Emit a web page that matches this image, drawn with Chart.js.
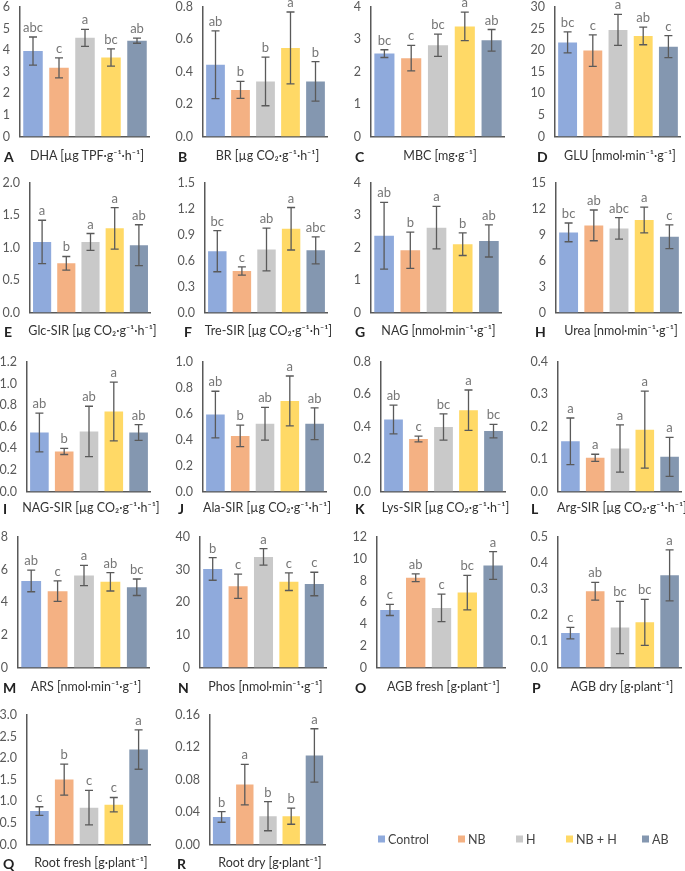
<!DOCTYPE html>
<html>
<head>
<meta charset="utf-8">
<script src="https://cdn.jsdelivr.net/npm/chart.js@4.4.1/dist/chart.umd.min.js"></script>
<style>
  body { margin: 0; background: #fff; width: 685px; height: 871px; position: relative; overflow: hidden; font-family: Lato, "Open Sans", sans-serif; }
  canvas { position: absolute; }
  .ttl { position: absolute; font-size: 12.5px; color: #333; white-space: nowrap; transform: translate(-50%, -50%); }
  .lbl { position: absolute; font-size: 14px; font-weight: bold; color: #222; transform: translateY(-50%); }
  .leg { position: absolute; font-size: 12.5px; color: #444; transform: translateY(-50%); white-space: nowrap; }
  .leg span { display: inline-block; width: 7px; height: 7px; margin-right: 3px; vertical-align: 1px; }
</style>
</head>
<body>
<script>
const groups = ["Control", "NB", "H", "NB + H", "AB"];
const colors = ["#8faadc", "#f4b183", "#c9c9c9", "#ffd966", "#8497b0"];

// A - DHA
const dhaMean = [3.96, 3.18, 4.57, 3.66, 4.44];
const dhaSd = [0.65, 0.46, 0.39, 0.40, 0.12];
const dhaLetters = ["abc", "c", "a", "bc", "ab"];
// B - BR
const brMean = [0.443, 0.288, 0.34, 0.547, 0.34];
const brSd = [0.209, 0.053, 0.15, 0.222, 0.122];
const brLetters = ["ab", "b", "b", "a", "b"];
// C - MBC
const mbcMean = [2.56, 2.42, 2.82, 3.40, 2.97];
const mbcSd = [0.12, 0.395, 0.345, 0.44, 0.335];
const mbcLetters = ["bc", "c", "bc", "a", "ab"];
// D - GLU
const gluMean = [21.8, 19.9, 24.7, 23.3, 20.8];
const gluSd = [2.45, 3.65, 3.6, 2.05, 2.55];
const gluLetters = ["bc", "c", "a", "ab", "c"];
// E - Glc-SIR
const glcMean = [1.09, 0.76, 1.09, 1.30, 1.04];
const glcSd = [0.335, 0.105, 0.13, 0.32, 0.315];
const glcLetters = ["a", "b", "a", "a", "ab"];
// F - Tre-SIR
const treMean = [0.71, 0.48, 0.73, 0.97, 0.72];
const treSd = [0.238, 0.048, 0.247, 0.246, 0.157];
const treLetters = ["bc", "c", "ab", "a", "abc"];
// G - NAG
const nagMean = [2.37, 1.92, 2.62, 2.11, 2.21];
const nagSd = [1.03, 0.56, 0.655, 0.35, 0.495];
const nagLetters = ["ab", "b", "a", "b", "ab"];
// H - Urea
const ureaMean = [9.28, 10.09, 9.74, 10.71, 8.77];
const ureaSd = [1.085, 1.78, 1.24, 1.485, 1.375];
const ureaLetters = ["bc", "ab", "abc", "a", "c"];
// I - NAG-SIR
const nagSirMean = [0.547, 0.371, 0.557, 0.742, 0.547];
const nagSirSd = [0.18, 0.028, 0.233, 0.272, 0.073];
const nagSirLetters = ["ab", "b", "ab", "a", "ab"];
// J - Ala-SIR
const alaMean = [0.594, 0.429, 0.523, 0.699, 0.523];
const alaSd = [0.18, 0.083, 0.127, 0.193, 0.123];
const alaLetters = ["ab", "b", "ab", "a", "ab"];
// K - Lys-SIR
const lysMean = [0.445, 0.324, 0.398, 0.502, 0.373];
const lysSd = [0.089, 0.018, 0.081, 0.125, 0.042];
const lysLetters = ["ab", "c", "bc", "a", "bc"];
// L - Arg-SIR
const argMean = [0.155, 0.104, 0.133, 0.191, 0.107];
const argSd = [0.072, 0.011, 0.073, 0.119, 0.06];
const argLetters = ["a", "a", "a", "a", "a"];
// M - ARS
const arsMean = [5.31, 4.68, 5.64, 5.25, 4.92];
const arsSd = [0.665, 0.625, 0.615, 0.56, 0.505];
const arsLetters = ["ab", "c", "a", "ab", "bc"];
// N - Phos
const phosMean = [30.2, 24.9, 33.9, 26.3, 25.6];
const phosSd = [3.45, 3.7, 2.55, 2.7, 3.6];
const phosLetters = ["b", "c", "a", "c", "c"];
// O - AGB fresh
const agbFreshMean = [5.29, 8.25, 5.48, 6.89, 9.38];
const agbFreshSd = [0.51, 0.355, 1.26, 1.585, 1.28];
const agbFreshLetters = ["c", "ab", "c", "bc", "a"];
// P - AGB dry
const agbDryMean = [0.132, 0.292, 0.153, 0.173, 0.353];
const agbDrySd = [0.022, 0.034, 0.1, 0.088, 0.098];
const agbDryLetters = ["c", "ab", "bc", "bc", "a"];
// Q - Root fresh
const rootFreshMean = [0.775, 1.504, 0.853, 0.922, 2.20];
const rootFreshSd = [0.10, 0.36, 0.40, 0.167, 0.457];
const rootFreshLetters = ["c", "b", "c", "c", "a"];
// R - Root dry
const rootDryMean = [0.034, 0.074, 0.035, 0.035, 0.110];
const rootDrySd = [0.0065, 0.025, 0.018, 0.010, 0.033];
const rootDryLetters = ["b", "a", "b", "b", "a"];

// rows: plot top / bottom and title line
const rows = [
  { top: 7, bottom: 136, title: 155 },
  { top: 183, bottom: 312, title: 330 },
  { top: 362, bottom: 491, title: 507 },
  { top: 537, bottom: 667, title: 686 },
  { top: 715, bottom: 844, title: 862 },
];

const panels = [
  { id: "A", title: "DHA [µg TPF·g⁻¹·h⁻¹]", mean: dhaMean, sd: dhaSd, letters: dhaLetters, max: 6, step: 1, dec: 0, row: 0, x: 20, right: 150, lx: 4 },
  { id: "B", title: "BR [µg CO₂·g⁻¹·h⁻¹]", mean: brMean, sd: brSd, letters: brLetters, max: 0.8, step: 0.2, dec: 1, row: 0, x: 203, right: 328, lx: 178 },
  { id: "C", title: "MBC [mg·g⁻¹]", mean: mbcMean, sd: mbcSd, letters: mbcLetters, max: 4, step: 1, dec: 0, row: 0, x: 371, right: 505, lx: 355 },
  { id: "D", title: "GLU [nmol·min⁻¹·g⁻¹]", mean: gluMean, sd: gluSd, letters: gluLetters, max: 30, step: 5, dec: 0, row: 0, x: 555, right: 681, lx: 537 },
  { id: "E", title: "Glc-SIR [µg CO₂·g⁻¹·h⁻¹]", mean: glcMean, sd: glcSd, letters: glcLetters, max: 2, step: 0.5, dec: 1, row: 1, x: 30, right: 151, lx: 4 },
  { id: "F", title: "Tre-SIR [µg CO₂·g⁻¹·h⁻¹]", mean: treMean, sd: treSd, letters: treLetters, max: 1.5, step: 0.3, dec: 1, row: 1, x: 205, right: 328, lx: 184 },
  { id: "G", title: "NAG [nmol·min⁻¹·g⁻¹]", mean: nagMean, sd: nagSd, letters: nagLetters, max: 4, step: 1, dec: 0, row: 1, x: 371, right: 502, lx: 355 },
  { id: "H", title: "Urea [nmol·min⁻¹·g⁻¹]", mean: ureaMean, sd: ureaSd, letters: ureaLetters, max: 15, step: 3, dec: 0, row: 1, x: 556, right: 682, lx: 535 },
  { id: "I", title: "NAG-SIR [µg CO₂·g⁻¹·h⁻¹]", mean: nagSirMean, sd: nagSirSd, letters: nagSirLetters, max: 1.2, step: 0.2, dec: 1, row: 2, x: 27, right: 151, lx: 3 },
  { id: "J", title: "Ala-SIR [µg CO₂·g⁻¹·h⁻¹]", mean: alaMean, sd: alaSd, letters: alaLetters, max: 1.0, step: 0.2, dec: 1, row: 2, x: 203, right: 327, lx: 178 },
  { id: "K", title: "Lys-SIR [µg CO₂·g⁻¹·h⁻¹]", mean: lysMean, sd: lysSd, letters: lysLetters, max: 0.8, step: 0.2, dec: 1, row: 2, x: 381, right: 506, lx: 355 },
  { id: "L", title: "Arg-SIR [µg CO₂·g⁻¹·h⁻¹]", mean: argMean, sd: argSd, letters: argLetters, max: 0.4, step: 0.1, dec: 1, row: 2, x: 558, right: 682, lx: 531 },
  { id: "M", title: "ARS [nmol·min⁻¹·g⁻¹]", mean: arsMean, sd: arsSd, letters: arsLetters, max: 8, step: 2, dec: 0, row: 3, x: 18, right: 150, lx: 3 },
  { id: "N", title: "Phos [nmol·min⁻¹·g⁻¹]", mean: phosMean, sd: phosSd, letters: phosLetters, max: 40, step: 10, dec: 0, row: 3, x: 200, right: 327, lx: 178 },
  { id: "O", title: "AGB fresh [g·plant⁻¹]", mean: agbFreshMean, sd: agbFreshSd, letters: agbFreshLetters, max: 12, step: 2, dec: 0, row: 3, x: 377, right: 506, lx: 355 },
  { id: "P", title: "AGB dry [g·plant⁻¹]", mean: agbDryMean, sd: agbDrySd, letters: agbDryLetters, max: 0.5, step: 0.1, dec: 1, row: 3, x: 558, right: 682, lx: 532 },
  { id: "Q", title: "Root fresh [g·plant⁻¹]", mean: rootFreshMean, sd: rootFreshSd, letters: rootFreshLetters, max: 3, step: 0.5, dec: 1, row: 4, x: 27, right: 151, lx: 3 },
  { id: "R", title: "Root dry [g·plant⁻¹]", mean: rootDryMean, sd: rootDrySd, letters: rootDryLetters, max: 0.16, step: 0.04, dec: 2, row: 4, x: 210, right: 326, lx: 177 },
];

// error bars + significance letters
const errorBars = {
  id: "errorBars",
  afterDatasetsDraw(chart) {
    const ds = chart.data.datasets[0];
    const meta = chart.getDatasetMeta(0);
    const y = chart.scales.y;
    const ctx = chart.ctx;
    ctx.save();
    meta.data.forEach((bar, i) => {
      const v = ds.data[i], e = ds.sd[i];
      const yHi = y.getPixelForValue(v + e);
      const yLo = y.getPixelForValue(v - e);
      ctx.strokeStyle = "#5a5a5a";
      ctx.lineWidth = 1.3;
      ctx.beginPath();
      ctx.moveTo(bar.x, yHi); ctx.lineTo(bar.x, yLo);
      ctx.moveTo(bar.x - 4, yHi); ctx.lineTo(bar.x + 4, yHi);
      ctx.moveTo(bar.x - 4, yLo); ctx.lineTo(bar.x + 4, yLo);
      ctx.stroke();
      ctx.fillStyle = "#767676";
      ctx.font = "13px Lato";
      ctx.textAlign = "center";
      ctx.textBaseline = "alphabetic";
      ctx.fillText(ds.letters[i], bar.x, yHi - 5);
    });
    ctx.restore();
  },
};

const yw = 44, padTop = 20, padBottom = 10;

function build(p, w, h) {
  const cv = document.createElement("canvas");
  cv.width = w; cv.height = h;
  cv.style.width = w + "px"; cv.style.height = h + "px";
  document.body.appendChild(cv);
  const chart = new Chart(cv.getContext("2d"), {
    type: "bar",
    data: {
      labels: groups,
      datasets: [{
        data: p.mean,
        sd: p.sd,
        letters: p.letters,
        backgroundColor: colors,
        barPercentage: 0.75,
        categoryPercentage: 1,
      }],
    },
    options: {
      responsive: false,
      maintainAspectRatio: false,
      animation: false,
      layout: { padding: { top: padTop, right: 0, bottom: padBottom, left: 0 } },
      plugins: { legend: { display: false }, tooltip: { enabled: false } },
      scales: {
        x: {
          grid: { display: false, drawTicks: false },
          border: { color: "#595959", width: 1.5 },
          ticks: { display: false },
          afterFit: s => { s.height = 0; },
        },
        y: {
          min: 0,
          max: p.max,
          grid: { display: false, drawTicks: false },
          border: { color: "#595959", width: 1.5 },
          ticks: {
            stepSize: p.step,
            padding: 10,
            color: "#595959",
            font: { family: "Lato", size: 12.5 },
            callback: v => Number(v).toFixed(p.dec),
          },
          afterFit: s => { s.width = yw; },
        },
      },
    },
    plugins: [errorBars],
  });
  return { cv, chart };
}

panels.forEach(p => {
  const r = rows[p.row];
  const wantW = p.right - p.x, wantH = r.bottom - r.top;
  let w = wantW + yw, h = wantH + padTop + padBottom;
  let b = build(p, w, h);
  // adjust the canvas once so that the plot area gets the wanted size
  let ca = b.chart.chartArea;
  const dw = wantW - (ca.right - ca.left), dh = wantH - (ca.bottom - ca.top);
  if (Math.abs(dw) > 0.5 || Math.abs(dh) > 0.5) {
    b.chart.destroy(); b.cv.remove();
    b = build(p, Math.round(w + dw), Math.round(h + dh));
    ca = b.chart.chartArea;
  }
  b.cv.style.left = (p.x - ca.left) + "px";
  b.cv.style.top = (r.top - ca.top) + "px";

  const t = document.createElement("div");
  t.className = "ttl";
  t.textContent = p.title;
  t.style.left = ((p.x + p.right) / 2 + 2) + "px";
  t.style.top = r.title + "px";
  document.body.appendChild(t);

  const l = document.createElement("div");
  l.className = "lbl";
  l.textContent = p.id;
  l.style.left = p.lx + "px";
  l.style.top = (r.title + 1) + "px";
  document.body.appendChild(l);
});

// legend
const legendX = [378, 458, 516, 566, 642];
groups.forEach((g, i) => {
  const d = document.createElement("div");
  d.className = "leg";
  d.style.left = legendX[i] + "px";
  d.style.top = "839px";
  d.innerHTML = '<span style="background:' + colors[i] + '"></span>' + g;
  document.body.appendChild(d);
});
</script>
</body>
</html>
